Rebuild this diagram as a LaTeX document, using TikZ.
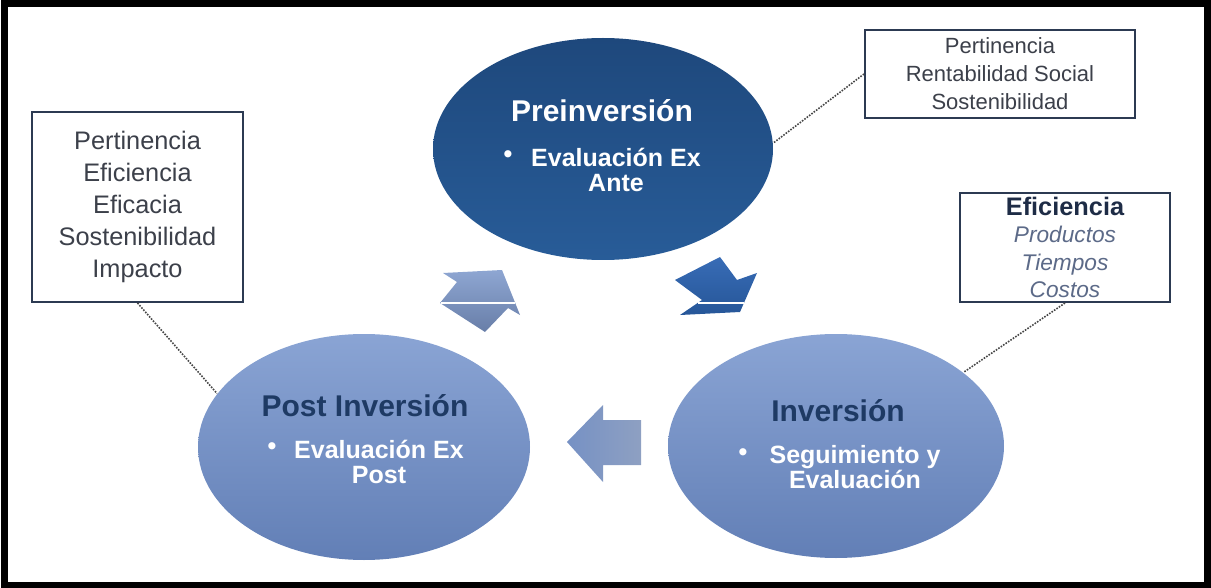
\documentclass[tikz,border=0pt]{standalone}
\usepackage{fontspec}
\setmainfont{Liberation Sans}
\usetikzlibrary{shapes.geometric}

\definecolor{preTop}{RGB}{30,72,124}
\definecolor{preBot}{RGB}{40,92,152}
\definecolor{lightTop}{RGB}{138,164,212}
\definecolor{lightBot}{RGB}{98,127,182}
\definecolor{titleNavy}{RGB}{30,58,100}
\definecolor{boxLine}{RGB}{44,58,82}
\definecolor{boxText}{RGB}{60,64,74}
\definecolor{effNavy}{RGB}{30,44,70}
\definecolor{italText}{RGB}{92,106,136}
\definecolor{upTop}{RGB}{142,166,210}
\definecolor{upBot}{RGB}{104,126,168}
\definecolor{downTop}{RGB}{56,108,182}
\definecolor{downBot}{RGB}{38,86,152}
\definecolor{backLeft}{RGB}{118,145,196}
\definecolor{backRight}{RGB}{142,160,194}
\definecolor{dotLine}{RGB}{70,70,70}

\tikzset{every picture/.style={line width=0.75pt}}
\tikzset{
  phase/.style={ellipse, draw=none, inner sep=0pt},
  phaseTitle/.style={inner sep=0.75pt, font=\fontsize{22.5}{26}\selectfont\bfseries},
  phaseText/.style={inner sep=0.75pt, align=center, text=white, font=\fontsize{18.75}{18.75}\selectfont\bfseries},
  infoBox/.style={draw=boxLine, line width=1.5pt, fill=white, align=center, inner sep=0pt, text=boxText},
  dotLink/.style={draw=dotLine, densely dotted, line width=1.2pt}
}

\begin{document}
\begin{tikzpicture}[x=0.75pt,y=0.75pt,yscale=-1,xscale=1]
\useasboundingbox (0,0) rectangle (1211,588);

%Frame
\draw [line width=5.25pt] (4,4) rectangle (1207,585);

%Shape: Ellipse [Preinversion]
\node [phase, top color=preTop, bottom color=preBot, minimum width=255pt, minimum height=166.5pt] (pre) at (603,149) {};
%Shape: Ellipse [Post Inversion]
\node [phase, top color=lightTop, bottom color=lightBot, minimum width=249pt, minimum height=169.5pt] (post) at (364,447) {};
%Shape: Ellipse [Inversion]
\node [phase, top color=lightTop, bottom color=lightBot, minimum width=252pt, minimum height=168pt] (inv) at (836,446) {};

%Shape: Arrow [up right]
\path [top color=upTop, bottom color=upBot] (443,273) -- (502,270) -- (520,315) -- (508,308) -- (485,332) -- (440,303) -- (457,282) -- cycle ;
\draw [color=white, line width=0.9pt] (441,303) -- (515,303) ;
%Shape: Arrow [down right]
\path [top color=downTop, bottom color=downBot] (675,280) -- (720,257) -- (737,280) -- (757,273) -- (740,312) -- (680,315) -- (702,300) -- cycle ;
\draw [color=white, line width=0.9pt] (698,303) -- (744,303) ;
%Shape: Arrow [left]
\path [left color=backLeft, right color=backRight] (567,442) -- (603,405) -- (603,420) -- (641,420) -- (641,465) -- (603,465) -- (603,482) -- cycle ;

% Text Node
\draw (602,111) node [phaseTitle, text=white] (preTitle) {Preinversión};
\draw (508,157) node [phaseText] (preDot) {•};
\draw (616,170) node [phaseText] (preTxt) {Evaluación Ex\\Ante};

% Text Node
\draw (365,406) node [phaseTitle, text=titleNavy] (postTitle) {Post Inversión};
\draw (272,449) node [phaseText] (postDot) {•};
\draw (379,462) node [phaseText] (postTxt) {Evaluación Ex\\Post};

% Text Node
\draw (838,411) node [phaseTitle, text=titleNavy] (invTitle) {Inversión};
\draw (743,455) node [phaseText] (invDot) {•};
\draw (855,467) node [phaseText] (invTxt) {Seguimiento y\\Evaluación};

%Shape: Rectangle [criteria]
\node [infoBox, minimum width=158.25pt, minimum height=142.5pt, font=\fontsize{19}{24}\selectfont] (leftBox) at (137.5,207) {Pertinencia\\Eficiencia\\Eficacia\\Sostenibilidad\\Impacto};
\node [infoBox, minimum width=202.5pt, minimum height=66pt, font=\fontsize{16.5}{21}\selectfont] (topBox) at (1000,74) {Pertinencia\\Rentabilidad Social\\Sostenibilidad};
\node [infoBox, minimum width=157.5pt, minimum height=81.75pt, font=\fontsize{17}{20.5}\selectfont, text=italText] (rightBox) at (1065,247.5) {{\fontsize{19}{20.5}\selectfont\bfseries\textcolor{effNavy}{Eficiencia}}\\\textit{Productos}\\\textit{Tiempos}\\\textit{Costos}};

%Straight Lines [dotted links]
\draw [dotLink] (leftBox.south) -- (post.160) ;
\draw [dotLink] (topBox.west) -- (pre.2) ;
\draw [dotLink] (rightBox.south) -- (inv.30) ;

\end{tikzpicture}
\end{document}
